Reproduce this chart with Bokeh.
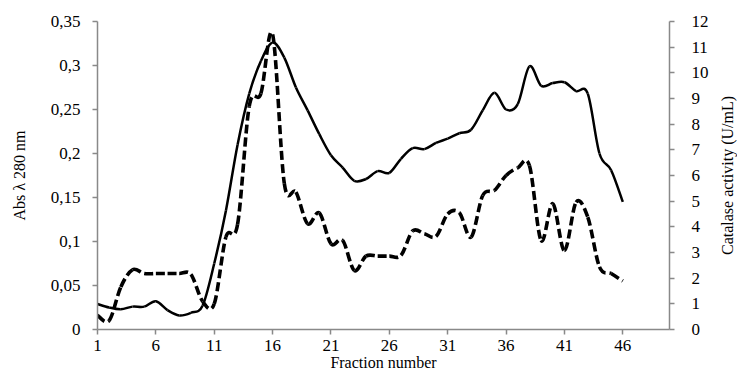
import math
import numpy as np
from bokeh.plotting import figure
from bokeh.layouts import row
from bokeh.models import Range1d, LinearAxis, FixedTicker, ColumnDataSource, Label
from bokeh.embed import file_html
from bokeh.resources import INLINE

fractions = list(range(1, 47))
abs280 = [0.029, 0.025, 0.023, 0.026, 0.026, 0.032, 0.022, 0.016, 0.019, 0.027,
          0.075, 0.135, 0.210, 0.268, 0.305, 0.326, 0.309, 0.275, 0.249, 0.222,
          0.198, 0.184, 0.169, 0.171, 0.180, 0.178, 0.194, 0.206, 0.205, 0.212,
          0.217, 0.223, 0.227, 0.249, 0.269, 0.250, 0.256, 0.299, 0.277, 0.280,
          0.281, 0.271, 0.268, 0.200, 0.181, 0.145]
catalase = [0.55, 0.35, 1.66, 2.33, 2.18, 2.18, 2.18, 2.18, 2.15, 1.10,
            1.00, 3.60, 4.10, 8.70, 9.20, 11.50, 5.70, 5.35, 4.12, 4.54,
            3.34, 3.47, 2.30, 2.86, 2.86, 2.86, 2.89, 3.84, 3.73, 3.63,
            4.50, 4.55, 3.60, 5.22, 5.42, 6.00, 6.30, 6.39, 3.47, 4.90,
            3.08, 4.96, 4.38, 2.44, 2.18, 1.89]

x_ticks = [1, 6, 11, 16, 21, 26, 31, 36, 41, 46]
left_ticks = [0, 0.05, 0.1, 0.15, 0.2, 0.25, 0.3, 0.35]
left_labels = ["0", "0,05", "0,1", "0,15", "0,2", "0,25", "0,3", "0,35"]
right_ticks = list(range(0, 13))
right_title = "Catalase activity (U/mL)"

FONT = "Liberation Serif"
AXIS_COLOR = "#898989"
TOP, BOTTOM = 21, 46
HEIGHT = 375


def smooth_segments(xs, ys):
    """Smoothed line (Catmull-Rom) through the data points, as bezier segments."""
    x = np.asarray(xs, dtype=float)
    y = np.asarray(ys, dtype=float)
    n = len(x)
    xp = np.concatenate([[x[0]], x, [x[-1]]])
    yp = np.concatenate([[y[0]], y, [y[-1]]])
    x0, y0 = x[:-1], y[:-1]
    x1, y1 = x[1:], y[1:]
    cx0 = x0 + (xp[2:n + 1] - xp[0:n - 1]) / 6.0
    cy0 = y0 + (yp[2:n + 1] - yp[0:n - 1]) / 6.0
    cx1 = x1 - (xp[3:n + 2] - xp[1:n]) / 6.0
    cy1 = y1 - (yp[3:n + 2] - yp[1:n]) / 6.0
    return ColumnDataSource(dict(x0=x0, y0=y0, x1=x1, y1=y1,
                                 cx0=cx0, cy0=cy0, cx1=cx1, cy1=cy1))


p = figure(width=717, height=HEIGHT, output_backend="svg", toolbar_location=None,
           x_range=Range1d(1, 50), y_range=Range1d(0, 0.35),
           min_border_left=97, min_border_right=48, min_border_top=TOP,
           min_border_bottom=BOTTOM)
p.outline_line_color = None
p.grid.grid_line_color = None
p.background_fill_color = "white"
p.border_fill_color = "white"
p.extra_y_ranges = {"right": Range1d(0, 12)}

src_abs = smooth_segments(fractions, abs280)
src_cat = smooth_segments(fractions, catalase)

p.bezier(x0="x0", y0="y0", x1="x1", y1="y1", cx0="cx0", cy0="cy0",
         cx1="cx1", cy1="cy1", source=src_abs, line_color="black", line_width=2.5)
p.bezier(x0="x0", y0="y0", x1="x1", y1="y1", cx0="cx0", cy0="cy0",
         cx1="cx1", cy1="cy1", source=src_cat, line_color="black", line_width=3.6,
         line_dash="9 4", y_range_name="right")

# x axis
xa = p.xaxis[0]
xa.ticker = FixedTicker(ticks=x_ticks)
xa.axis_label = "Fraction number"

# left axis
ya = p.yaxis[0]
ya.ticker = FixedTicker(ticks=left_ticks)
ya.major_label_overrides = {t: l for t, l in zip(left_ticks, left_labels)}
ya.axis_label = "Abs λ 280 nm"

# right axis
ra = LinearAxis(y_range_name="right", ticker=FixedTicker(ticks=right_ticks))
p.add_layout(ra, "right")

for ax in [xa, ya, ra]:
    ax.axis_line_color = AXIS_COLOR
    ax.axis_line_width = 1.5
    ax.major_tick_line_color = AXIS_COLOR
    ax.major_tick_line_width = 1.5
    ax.major_tick_out = 5
    ax.major_tick_in = 0
    ax.minor_tick_line_color = None
    ax.major_label_text_font = FONT
    ax.major_label_text_font_size = "17px"
    ax.major_label_text_color = "black"
    ax.axis_label_text_font = FONT
    ax.axis_label_text_font_size = "16px"
    ax.axis_label_text_font_style = "normal"
    ax.axis_label_text_color = "black"

xa.major_label_standoff = 5
xa.axis_label_standoff = 0
ya.major_label_standoff = 12
ya.axis_label_standoff = 20
ra.major_label_standoff = 17

# narrow strip to the right holding the right-axis title, reading bottom-to-top
t = figure(width=20, height=HEIGHT, output_backend="svg", toolbar_location=None,
           x_range=Range1d(0, 1), y_range=Range1d(0, 12),
           x_axis_type=None, y_axis_type=None,
           min_border_left=0, min_border_right=0, min_border_top=TOP,
           min_border_bottom=BOTTOM)
t.outline_line_color = None
t.grid.grid_line_color = None
t.background_fill_color = "white"
t.border_fill_color = "white"
t.add_layout(Label(x=0.5, y=6, text=right_title, angle=math.pi / 2,
                   text_align="center", text_baseline="middle",
                   text_font=FONT, text_font_size="16px", text_color="black"))

layout = row(p, t, spacing=0)
open("out.html", "w").write(file_html(layout, INLINE))
